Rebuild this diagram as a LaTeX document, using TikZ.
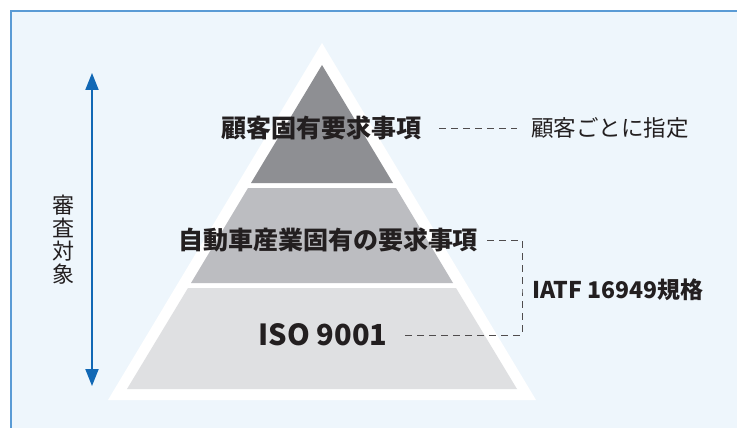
\documentclass[tikz,border=0pt]{standalone}
\usepackage{fontspec}
\setmainfont{Noto Sans CJK JP}
\usetikzlibrary{arrows.meta}

\definecolor{panelbg}{HTML}{EEF6FC}
\definecolor{panelline}{HTML}{5A9BD5}
\definecolor{tiertop}{HTML}{8E8F93}
\definecolor{tiermid}{HTML}{BCBDC1}
\definecolor{tierlow}{HTML}{DFE0E2}
\definecolor{scopeblue}{HTML}{1168B5}
\definecolor{inkgray}{HTML}{231F20}

\begin{document}
\begin{tikzpicture}[x=1pt,y=-1pt,
    tiertext/.style={font=\fontsize{25pt}{29pt}\selectfont\bfseries, text=inkgray, inner sep=0pt},
    sidetext/.style={font=\fontsize{22.5pt}{26pt}\selectfont, text=inkgray, inner sep=0pt},
    dashline/.style={draw=inkgray!80, line width=0.9pt, dash pattern=on 7pt off 5pt}]
  \useasboundingbox (0,0) rectangle (737,428);

  \fill[panelbg] (11,11) rectangle (737,428);
  \draw[panelline, line width=1.6pt] (11,428) -- (11,11) -- (737,11);

  \fill[white] (322,43) -- (536,400) -- (108,400) -- cycle;
  \fill[tiertop] (322,65) -- (393,183) -- (251,183) -- cycle;
  \fill[tiermid] (248,188) -- (396,188) -- (453,283) -- (191,283) -- cycle;
  \fill[tierlow] (188,288) -- (456,288) -- (517,389) -- (127,389) -- cycle;

  \node[tiertext] (cust) at (321,128) {顧客固有要求事項};
  \node[tiertext] (auto) at (328,240) {自動車産業固有の要求事項};
  \node[tiertext, font=\fontsize{29pt}{33pt}\selectfont\bfseries] (iso) at (323,335) {ISO 9001};

  \node[sidetext, anchor=west] (note) at (531,128) {顧客ごとに指定};
  \node[sidetext, anchor=west, font=\fontsize{23pt}{27pt}\selectfont\bfseries] (iatf) at (532,290) {IATF 16949規格};

  \draw[dashline] ([xshift=18pt]cust.east) -- ([xshift=-14pt]note.west);
  \draw[dashline] ([xshift=9pt]auto.east) -| ([xshift=-10pt]iatf.west)
    |- ([xshift=13pt]iso.east);

  \node[sidetext, align=center, font=\fontsize{22pt}{23pt}\selectfont] (scope) at (63,240) {審\\査\\対\\象};
  \coordinate (scopetop) at (92,73);
  \coordinate (scopebot) at (92,386);
  \draw[scopeblue, line width=2pt, {Triangle[length=17pt,width=13pt]}-{Triangle[length=17pt,width=13pt]}] (scopetop) -- (scopebot);
\end{tikzpicture}
\end{document}
